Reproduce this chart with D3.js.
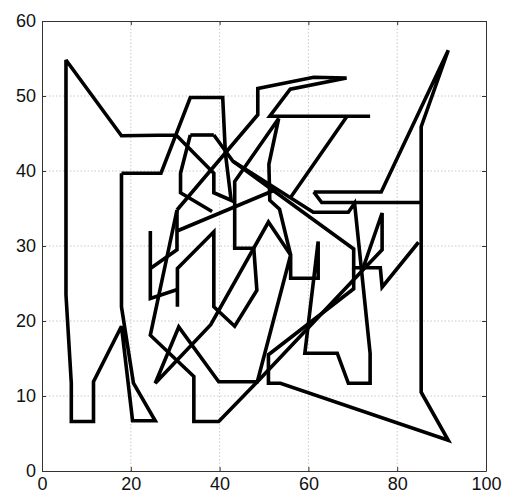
<!DOCTYPE html>
<html>
<head>
<meta charset="utf-8">
<script src="https://cdn.jsdelivr.net/npm/d3@7"></script>
<style>
body { margin: 0; background: #fff; }
svg { display: block; }
</style>
</head>
<body>
<script>
const W = 505, H = 499;
const m = {left: 42, right: 19, top: 21, bottom: 28};

const xTicks = [0, 20, 40, 60, 80, 100];
const yTicks = [0, 10, 20, 30, 40, 50, 60];

// traced polylines, [x, y] in data units
const leftLoop = [[17.9,39.7],[26.8,39.7],[33.4,49.8],[40.7,49.8],[41.3,42.4],[42.6,36.1],[38.7,37.1],[38.7,39.7],[30.2,44.8],[17.9,44.7],[5.4,54.8],[5.4,23.5],[6.6,11.7],[6.6,6.6],[11.6,6.6],[11.6,11.9],[17.9,19.3],[20.4,6.7],[25.5,6.7],[20.6,11.7],[17.9,21.9],[17.9,39.7]];
const hook = [[33.4,44.8],[38.7,44.8]];
const hookDown = [[33.4,44.8],[31.2,39.7],[31.2,37.1],[38.3,34.6]];
const topRun = [[30.4,34.8],[48.6,47.5],[48.6,51.0],[61.2,52.5],[68.6,52.4],[55.9,50.9],[51.3,47.3],[73.9,47.3],[68.7,47.3],[55.9,36.4]];
const hexRun = [[56.0,28.8],[53.5,34.9],[51.3,36.1],[51.1,40.9],[53.3,47.0],[43.4,38.6],[43.4,29.7],[47.7,29.7],[48.4,24.1],[43.4,19.3],[38.7,21.9],[38.7,31.9],[30.5,27.0],[30.5,21.9]];
const diag1 = [[38.7,44.8],[43.0,41.3],[70.2,29.6],[70.2,27.1],[76.2,27.1],[76.6,24.5],[84.8,30.5]];
const diag2 = [[43.0,41.3],[61.1,34.5],[69.0,34.5],[70.4,35.7],[73.9,15.7],[73.9,11.7],[69.0,11.7],[66.5,15.7],[59.2,15.7],[62.2,30.6],[62.2,25.7],[56.0,25.7],[56.0,28.8],[51.0,33.2],[38.0,19.5],[25.5,11.7],[30.8,19.2],[39.8,11.9],[48.5,11.9],[56.0,28.8]];
const rightRun = [[61.2,37.2],[76.4,37.2],[91.5,56.1],[85.4,45.9],[85.4,10.5],[91.5,4.1],[53.7,11.7],[51.0,11.7],[51.0,15.5],[70.2,24.3],[70.2,27.1]];
const shelf = [[61.2,37.2],[63.0,35.8],[85.4,35.8]];
const triangle = [[48.5,11.9],[72.1,26.7],[76.6,34.4],[76.6,29.5],[72.1,26.7]];
const smallZ = [[24.4,32.0],[24.4,23.0],[30.5,24.2]];
const smallStep = [[24.4,27.0],[30.4,29.5],[30.4,34.8]];
const longRight = [[30.4,32.0],[53.0,37.6]];
const longLeft = [[30.4,34.8],[24.4,18.1],[34.2,12.6],[34.2,6.6],[39.8,6.6],[48.5,11.9]];

const paths = [leftLoop, hook, hookDown, topRun, hexRun, diag1, diag2, rightRun, shelf, triangle, smallZ, smallStep, longRight, longLeft];

const x = d3.scaleLinear().domain([0, 100]).range([m.left, W - m.right]);
const y = d3.scaleLinear().domain([0, 60]).range([H - m.bottom, m.top]);

const svg = d3.select('body').append('svg').attr('width', W).attr('height', H);

// dotted grid
svg.append('g').selectAll('line').data(xTicks.slice(1, -1)).join('line')
  .attr('x1', d => x(d)).attr('x2', d => x(d)).attr('y1', y(0)).attr('y2', y(60))
  .attr('stroke', '#bbb').attr('stroke-width', 0.8).attr('stroke-dasharray', '1.5,2');
svg.append('g').selectAll('line').data(yTicks.slice(1, -1)).join('line')
  .attr('y1', d => y(d)).attr('y2', d => y(d)).attr('x1', x(0)).attr('x2', x(100))
  .attr('stroke', '#bbb').attr('stroke-width', 0.8).attr('stroke-dasharray', '1.5,2');

const line = d3.line().x(d => x(d[0])).y(d => y(d[1]));
svg.append('g').selectAll('path').data(paths).join('path')
  .attr('d', line).attr('fill', 'none').attr('stroke', '#000')
  .attr('stroke-width', 3.6).attr('stroke-linejoin', 'miter').attr('stroke-miterlimit', 3);

// box axes with inward ticks
const xAxis = d3.axisBottom(x).tickValues(xTicks).tickSizeInner(-4).tickSizeOuter(0).tickPadding(6);
const yAxis = d3.axisLeft(y).tickValues(yTicks).tickSizeInner(-4).tickSizeOuter(0).tickPadding(6);
svg.append('g').attr('transform', `translate(0,${y(0)})`).call(xAxis);
svg.append('g').attr('transform', `translate(${x(0)},0)`).call(yAxis);
svg.append('g').attr('transform', `translate(0,${y(60)})`).call(d3.axisTop(x).tickValues(xTicks).tickSizeInner(-4).tickSizeOuter(0).tickFormat(''));
svg.append('g').attr('transform', `translate(${x(100)},0)`).call(d3.axisRight(y).tickValues(yTicks).tickSizeInner(-4).tickSizeOuter(0).tickFormat(''));
svg.selectAll('.domain, .tick line').attr('stroke', '#333');
svg.selectAll('.tick text').attr('font-family', 'Liberation Sans, Arial, sans-serif').attr('font-size', 18).attr('fill', '#111');
</script>
</body>
</html>
